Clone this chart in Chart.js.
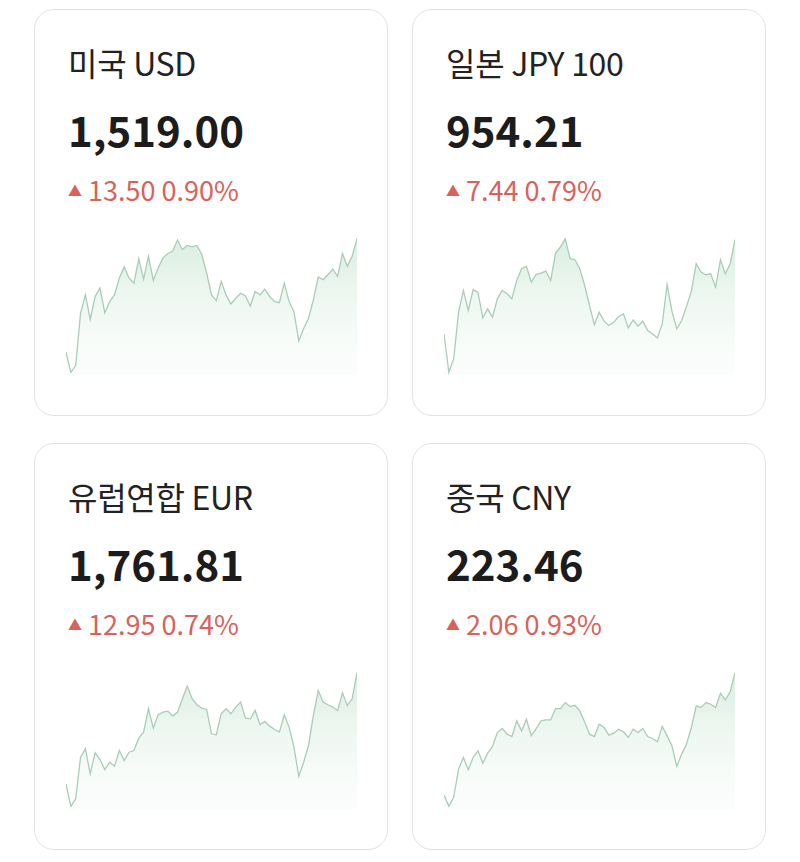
<!DOCTYPE html>
<html><head><meta charset="utf-8">
<script src="https://cdn.jsdelivr.net/npm/chart.js@4"></script>
<style>
body{margin:0;background:#fff;font-family:"Noto Sans CJK KR","Noto Sans",sans-serif;width:800px;height:862px;position:relative;overflow:hidden}
.card{position:absolute;width:354px;height:407px;border:1.5px solid #e3e3e3;border-radius:20px;box-sizing:border-box;background:#fff}
.t{position:absolute;left:33px;top:36px;font-size:32px;color:#222;line-height:1;letter-spacing:-0.3px}
.p{position:absolute;left:33px;top:98px;font-size:42px;font-weight:bold;color:#1c1c1c;line-height:1}
.c{position:absolute;left:33px;top:166px;font-size:27px;color:#d9625a;line-height:1}
.c span{font-size:14px;vertical-align:5px;margin-right:6px}
canvas{position:absolute}
.w{position:absolute;left:31px;top:228px;width:291px;height:137px}
</style></head><body>
<script>
const titles=["미국 USD","일본 JPY 100","유럽연합 EUR","중국 CNY"];
const prices=["1,519.00","954.21","1,761.81","223.46"];
const changes=["13.50 0.90%","7.44 0.79%","12.95 0.74%","2.06 0.93%"];
const usdY=[365,425,405,250,195,268,200,175,248,215,195,145,112,145,160,88,148,80,152,115,85,72,65,32,60,48,52,48,75,130,195,212,155,195,222,205,190,198,228,185,195,178,200,215,218,160,215,245,332,295,265,210,142,150,135,118,140,72,110,80,28];
const jpyY=[310,425,385,245,180,240,178,185,262,235,260,205,180,190,205,150,115,108,155,132,128,122,150,68,50,25,85,88,115,165,225,282,245,272,285,275,258,250,292,268,287,272,300,310,322,280,162,242,295,270,228,182,100,125,133,130,170,88,130,100,28];
const eurY=[355,422,400,275,250,325,262,282,312,290,302,255,285,260,255,218,200,130,188,148,140,137,152,140,100,62,100,118,128,132,205,208,145,130,145,125,110,158,160,135,178,168,182,192,200,148,185,245,332,290,240,150,75,110,118,125,135,82,120,100,22];
const cnyY=[388,422,395,310,275,312,275,255,292,262,242,200,188,205,212,165,195,160,210,188,165,162,162,128,128,110,122,118,135,168,205,212,175,185,208,202,190,198,215,190,200,188,212,218,228,182,210,240,302,265,235,185,120,125,110,115,125,82,102,78,20];
const series=[usdY,jpyY,eurY,cnyY].map(a=>a.map(v=>450-v));
const pos=[[34,9],[412,9],[34,443],[412,443]];
pos.forEach((p,i)=>{
  const d=document.createElement('div');d.className='card';d.style.left=p[0]+'px';d.style.top=p[1]+'px';
  d.innerHTML=`<div class="t">${titles[i]}</div><div class="p">${prices[i]}</div><div class="c"><span>▲</span>${changes[i]}</div><div class="w"><canvas></canvas></div>`;
  document.body.appendChild(d);
  const data=series[i];
  const mn=Math.min(...data),mx=Math.max(...data);
  const cv=d.querySelector('canvas');
  new Chart(cv,{type:'line',data:{labels:data.map((_,k)=>k),datasets:[{data,borderColor:'#a9cdb6',borderWidth:1.3,pointRadius:0,tension:0,fill:'start',
    backgroundColor:(ctx)=>{const a=ctx.chart.chartArea;if(!a)return 'rgba(220,238,226,0.6)';const g=ctx.chart.ctx.createLinearGradient(0,a.top,0,a.bottom);g.addColorStop(0,'rgba(205,232,214,0.75)');g.addColorStop(1,'rgba(240,248,243,0.2)');return g;}}]},
    options:{responsive:true,maintainAspectRatio:false,animation:false,plugins:{legend:{display:false},tooltip:{enabled:false}},
      layout:{padding:0},scales:{x:{display:false,offset:false},y:{display:false,min:mn-8,max:mx+2}}}});
});
</script>
</body></html>
